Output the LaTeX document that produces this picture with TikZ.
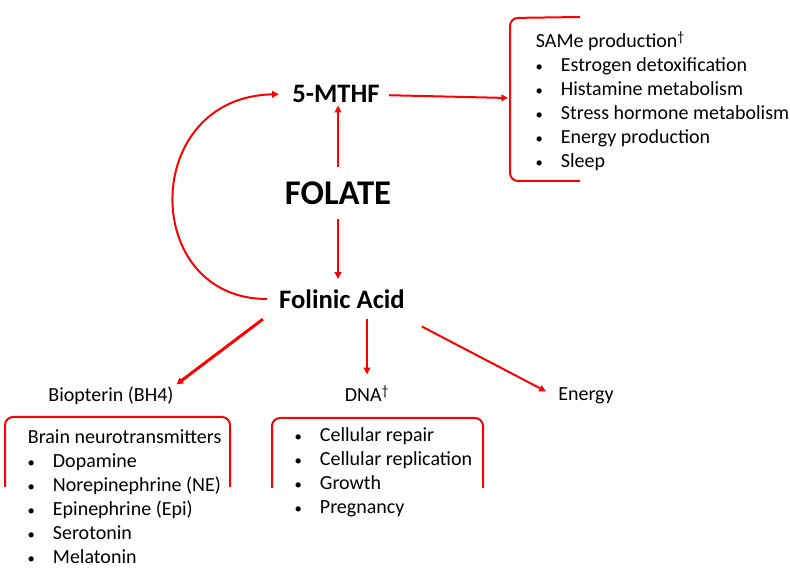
\documentclass[tikz,border=0pt]{standalone}
\usepackage{fontspec}
\setmainfont{Carlito}
\usetikzlibrary{arrows.meta}
\newcommand{\bul}{\llap{\raisebox{0.5pt}{\fontsize{11}{11}\selectfont\textbullet}\hspace{13.5pt}}}

\begin{document}
\begin{tikzpicture}
  [x=0.75pt,y=-0.75pt,every node/.style={font=\fontsize{15}{18}\selectfont,inner sep=2pt},
   >={Triangle[length=5pt,width=5pt]}]
 \tikzset{EdgeStyle/.style={->,red,line width=1.5pt},
   Bracket/.style={red,line width=1.5pt,rounded corners=6pt},
   Title/.style={font=\fontsize{20}{24}\selectfont\bfseries},
   Item/.style={anchor=base west}}
 \useasboundingbox (0,0) rectangle (790,580);

 \node[Title] (mthf) at (336,94) {5-MTHF};
 \node[font=\fontsize{26}{30}\selectfont\bfseries,inner ysep=11pt] (folate) at (338,193) {FOLATE};
 \node[Title,outer ysep=6pt] (folinic) at (342,299) {Folinic Acid};
 \node[anchor=base] (bh4) at (111,402) {Biopterin (BH4)};
 \node[anchor=base] (dna) at (367,402) {DNA\textsuperscript{\textdagger}};
 \node[anchor=base] (energy) at (586,401) {Energy};

 % lists
 \node[Item] (same) at (533,48) {SAMe production\textsuperscript{\textdagger}};
 \foreach \t [count=\i] in {Estrogen detoxification,Histamine metabolism,Stress hormone metabolism,Energy production,Sleep}
    \node[Item] (same\i) at (558,{48+24*\i}) {\bul\t};
 \node[Item] (brain) at (25,444) {Brain neurotransmitters};
 \foreach \t [count=\i] in {Dopamine,Norepinephrine (NE),Epinephrine (Epi),Serotonin,Melatonin}
    \node[Item] (brain\i) at (50,{444+24*\i}) {\bul\t};
 \foreach \t [count=\i] in {Cellular repair,Cellular replication,Growth,Pregnancy}
    \node[Item] (dna\i) at (317,{418+24*\i}) {\bul\t};

 \draw[Bracket] (580,17) -- (510,18) -- (510,181) -- (580,181);
 \draw[Bracket] (5,487) -- (5,417) -- (230,417) -- (230,487);
 \draw[Bracket] (272,488) -- (272,418) -- (483,418) -- (483,488);
 \coordinate (samein) at (508,98);

 \draw[EdgeStyle] (folate.north) -- (folate.north |- mthf.south);
 \draw[EdgeStyle] (folate.south) -- (folate.south |- folinic.north);
 \draw[EdgeStyle,shorten <=5pt] (mthf) -- (samein);
 \draw[EdgeStyle,shorten <=7pt,shorten >=8pt] (folinic.west) .. controls (140,299) and (140,97) .. (mthf.west);
 \draw[EdgeStyle,line width=2.2pt] ([xshift=-10pt]folinic.south west) -- (bh4.north east);
 \draw[EdgeStyle,shorten >=6pt] (folinic.south -| dna.north) -- (dna.north);
 \draw[EdgeStyle,shorten <=12pt,shorten >=8pt] (folinic.south east) -- (energy.west);

\end{tikzpicture}
\end{document}
